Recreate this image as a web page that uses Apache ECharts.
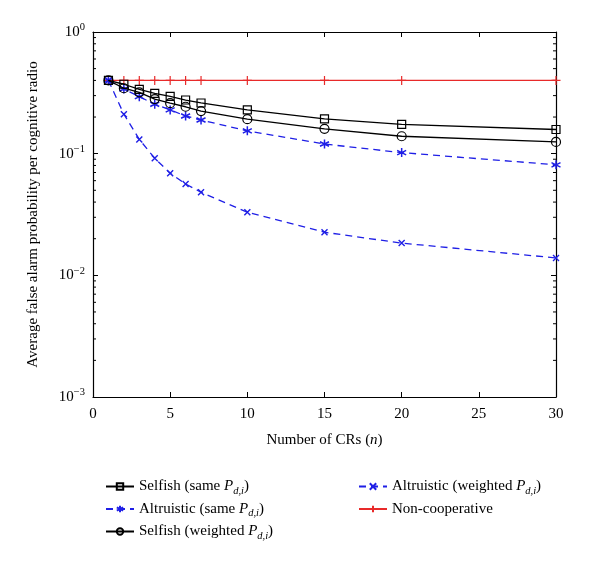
<!DOCTYPE html>
<html><head><meta charset="utf-8">
<script src="https://cdn.jsdelivr.net/npm/echarts@6/dist/echarts.min.js"></script>
<style>html,body{margin:0;padding:0;background:#fff}#c{width:600px;height:563px}</style>
</head><body><div id="c"></div>
<script>
var xValues = [1, 2, 3, 4, 5, 6, 7, 10, 15, 20, 30];
var selfishSame = [0.40, 0.372, 0.338, 0.313, 0.296, 0.276, 0.261, 0.229, 0.193, 0.174, 0.158];
var altruisticSame = [0.40, 0.34, 0.294, 0.255, 0.229, 0.204, 0.189, 0.154, 0.120, 0.102, 0.081];
var selfishWeighted = [0.40, 0.345, 0.319, 0.281, 0.260, 0.243, 0.224, 0.192, 0.160, 0.139, 0.125];
var altruisticWeighted = [0.40, 0.211, 0.131, 0.0917, 0.069, 0.0564, 0.0482, 0.033, 0.0226, 0.0184, 0.0139];
var nonCooperative = [0.40, 0.40, 0.40, 0.40, 0.40, 0.40, 0.40, 0.40, 0.40, 0.40, 0.40];
var xTicks = [0, 5, 10, 15, 20, 25, 30];
var yTickExponents = [0, -1, -2, -3];
var minorTickValues = [0.002,0.003,0.004,0.005,0.006,0.007,0.008,0.009,
  0.02,0.03,0.04,0.05,0.06,0.07,0.08,0.09,
  0.2,0.3,0.4,0.5,0.6,0.7,0.8,0.9];

var FONT = '"Liberation Serif","DejaVu Serif",serif';
var BLUE = '#1f1fe6', RED = '#e82a2a', BLACK = '#000';
function pairs(ys){ return xValues.map(function(x,i){ return [x, ys[i]]; }); }
var ASTER = 'path://M0,-10L0,10M-8.7,-5L8.7,5M-8.7,5L8.7,-5';
var CROSS = 'path://M-10,-10L10,10M-10,10L10,-10';
var PLUS = 'path://M0,-10L0,10M-10,0L10,0';

var legendNames = {
  'Selfish (same P)': 'Selfish (same {i|P}{sub|d,i})',
  'Altruistic (same P)': 'Altruistic (same {i|P}{sub|d,i})',
  'Selfish (weighted P)': 'Selfish (weighted {i|P}{sub|d,i})',
  'Altruistic (weighted P)': 'Altruistic (weighted {i|P}{sub|d,i})',
  'Non-cooperative': 'Non-cooperative'
};
var legendRich = {
  i: {fontFamily: FONT, fontSize: 15, fontStyle: 'italic', color: '#000'},
  sub: {fontFamily: FONT, fontSize: 10.5, fontStyle: 'italic', color: '#000', padding: [9,0,0,0]}
};
function legendCfg(data, left){
  return {
    data: data, orient: 'vertical', left: left, top: 474,
    itemWidth: 28, itemHeight: 8, itemGap: 5,
    textStyle: {fontFamily: FONT, fontSize: 15, color: '#000', rich: legendRich},
    formatter: function(n){ return legendNames[n]; }
  };
}

var axisLineStyle = {color: '#000', width: 1.2};
var option = {
  animation: false,
  backgroundColor: '#fff',
  grid: {left: 93, right: 44, top: 32, bottom: 166},
  legend: [
    legendCfg(['Selfish (same P)', 'Altruistic (same P)', 'Selfish (weighted P)'], 100),
    legendCfg(['Altruistic (weighted P)', 'Non-cooperative'], 353)
  ],
  xAxis: [{
    type: 'value', min: 0, max: 30, interval: 5,
    name: 'Number of CRs ({i|n})', nameLocation: 'middle', nameGap: 36,
    nameTextStyle: {fontFamily: FONT, fontSize: 15, color: '#000', rich: {i: {fontFamily: FONT, fontSize: 15, fontStyle: 'italic', color: '#000'}}},
    axisLine: {onZero: false, lineStyle: axisLineStyle},
    axisTick: {inside: true, length: 5, lineStyle: {color: '#000'}},
    axisLabel: {fontFamily: FONT, fontSize: 15, color: '#000', margin: 10,
      formatter: function(v){ return xTicks.indexOf(v) >= 0 ? String(v) : ''; }},
    splitLine: {show: false}
  }, {
    type: 'value', min: 0, max: 30, interval: 5, position: 'top',
    axisLine: {onZero: false, lineStyle: axisLineStyle},
    axisTick: {inside: true, length: 5, lineStyle: {color: '#000'}},
    axisLabel: {show: false}, splitLine: {show: false}
  }],
  yAxis: [{
    type: 'log', logBase: 10, min: 0.001, max: 1, position: 'left',
    name: 'Average false alarm probability per cognitive radio',
    nameLocation: 'middle', nameGap: 52,
    nameTextStyle: {fontFamily: FONT, fontSize: 15, color: '#000'},
    axisLine: {onZero: false, lineStyle: axisLineStyle},
    axisTick: {inside: true, length: 5, lineStyle: {color: '#000'}},
    axisLabel: {fontFamily: FONT, fontSize: 15, color: '#000', margin: 8,
      formatter: function(v){
        var e = Math.round(Math.log(v)/Math.LN10);
        if (yTickExponents.indexOf(e) < 0) return '';
        return '{b|10}{s|' + (e < 0 ? '\u2212' + (-e) : e) + '}';
      },
      rich: {
        b: {fontFamily: FONT, fontSize: 15, color: '#000'},
        s: {fontFamily: FONT, fontSize: 10.5, color: '#000', padding: [0,0,9,0]}
      }},
    splitLine: {show: false}
  }, {
    type: 'log', logBase: 10, min: 0.001, max: 1, position: 'right',
    axisLine: {onZero: false, lineStyle: axisLineStyle},
    axisTick: {inside: true, length: 5, lineStyle: {color: '#000'}},
    axisLabel: {show: false}, splitLine: {show: false}
  }],
  series: [
    {
      type: 'custom', name: 'minorTicks', silent: true, z: 1,
      data: minorTickValues.map(function(v){ return [0, v]; }),
      renderItem: function(params, api){
        var v = api.value(1);
        var pl = api.coord([0, v]);
        var pr = api.coord([30, v]);
        return {type: 'group', children: [
          {type: 'line', shape: {x1: pl[0], y1: pl[1], x2: pl[0] + 3, y2: pl[1]}, style: {stroke: '#000', lineWidth: 1}},
          {type: 'line', shape: {x1: pr[0], y1: pr[1], x2: pr[0] - 3, y2: pr[1]}, style: {stroke: '#000', lineWidth: 1}}
        ]};
      },
      clip: false
    },
    {
      name: 'Non-cooperative', type: 'line', data: pairs(nonCooperative), z: 2,
      symbol: PLUS, symbolSize: 9,
      lineStyle: {color: RED, width: 1.3},
      itemStyle: {color: RED, borderColor: RED, borderWidth: 1.2}
    },
    {
      name: 'Altruistic (weighted P)', type: 'line', data: pairs(altruisticWeighted), z: 3,
      symbol: CROSS, symbolSize: 6,
      lineStyle: {color: BLUE, width: 1.3, type: [7,5]},
      itemStyle: {color: BLUE, borderColor: BLUE, borderWidth: 1.4}
    },
    {
      name: 'Altruistic (same P)', type: 'line', data: pairs(altruisticSame), z: 4,
      symbol: ASTER, symbolSize: 9,
      lineStyle: {color: BLUE, width: 1.3, type: [7,5]},
      itemStyle: {color: BLUE, borderColor: BLUE, borderWidth: 1.5}
    },
    {
      name: 'Selfish (weighted P)', type: 'line', data: pairs(selfishWeighted), z: 5,
      symbol: 'circle', symbolSize: 9,
      lineStyle: {color: BLACK, width: 1.3},
      itemStyle: {color: 'rgba(255,255,255,0)', borderColor: BLACK, borderWidth: 1.2}
    },
    {
      name: 'Selfish (same P)', type: 'line', data: pairs(selfishSame), z: 6,
      symbol: 'rect', symbolSize: 8,
      lineStyle: {color: BLACK, width: 1.3},
      itemStyle: {color: 'rgba(255,255,255,0)', borderColor: BLACK, borderWidth: 1.2}
    }
  ]
};
var chart = echarts.init(document.getElementById('c'), null, {renderer: 'canvas'});
chart.setOption(option);
</script>
</body></html>
